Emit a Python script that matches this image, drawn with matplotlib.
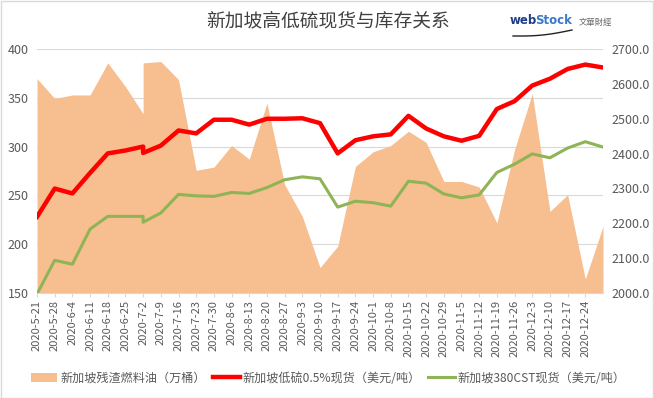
import numpy as np
import pandas as pd
import matplotlib
matplotlib.use("Agg")
from matplotlib import pyplot as plt
from matplotlib.patches import Patch, Rectangle
from matplotlib.lines import Line2D

plt.rcParams['font.family'] = ['Noto Sans CJK SC', 'DejaVu Sans']

# Weekly dates, 2020-7-2 appears twice in the source data
dates = ["2020-05-21", "2020-05-28", "2020-06-04", "2020-06-11", "2020-06-18", "2020-06-25",
         "2020-07-02", "2020-07-02", "2020-07-09", "2020-07-16", "2020-07-23", "2020-07-30",
         "2020-08-06", "2020-08-13", "2020-08-20", "2020-08-27", "2020-09-03", "2020-09-10",
         "2020-09-17", "2020-09-24", "2020-10-01", "2020-10-08", "2020-10-15", "2020-10-22",
         "2020-10-29", "2020-11-05", "2020-11-12", "2020-11-19", "2020-11-26", "2020-12-03",
         "2020-12-10", "2020-12-17", "2020-12-24", "2020-12-31"]

# 新加坡残渣燃料油 (万桶), right axis
stock = [2615, 2558, 2568, 2568, 2660, 2592,
         2514, 2660, 2664, 2612, 2352, 2361,
         2423, 2384, 2545, 2311, 2220, 2073,
         2134, 2363, 2405, 2423, 2464, 2432,
         2320, 2320, 2304, 2201, 2411, 2572,
         2234, 2282, 2040, 2191]

# 新加坡低硫0.5%现货 (美元/吨), left axis
lsfo = [228, 257, 252, 273, 293, 296,
        300, 293.5, 301, 316.5, 313.5, 327.5,
        327.5, 322.5, 328.5, 328.5, 329, 324,
        293, 306.5, 310.5, 312.5, 331.5, 318.5,
        310.5, 306, 311, 338.5, 346.5, 362.5,
        369.5, 379.5, 384, 381]

# 新加坡380CST现货 (美元/吨), left axis
hsfo = [149, 183.5, 179.5, 215.5, 228.5, 228.5,
        228.5, 222.5, 232, 251, 249.5, 249,
        253, 252, 258, 266, 269, 267,
        238, 244, 242.5, 239, 264.5, 262.5,
        251.5, 247.5, 250.5, 273.5, 282, 292.5,
        288.5, 298.5, 305, 299.5]

x = pd.to_datetime(dates)

fig = plt.figure(figsize=(6.54, 3.98), dpi=100)
fig.patches.append(Rectangle((0.001, 0.001), 0.997, 0.997, transform=fig.transFigure,
                             fill=False, edgecolor="#d9d9d9", linewidth=1))

ax = fig.add_axes([0.0566, 0.2638, 0.8654, 0.6132])
ax2 = ax.twinx()

# Area on the right axis, drawn behind the lines
ax2.fill_between(x, 2000, stock, color="#F7BE8F", linewidth=0, zorder=1)
ax2.set_ylim(2000, 2700)
ax2.set_yticks(np.arange(2000, 2701, 100))
ax2.set_yticklabels(["%.1f" % v for v in np.arange(2000, 2701, 100)])

ax.set_zorder(ax2.get_zorder() + 1)
ax.patch.set_visible(False)
ax.plot(x, lsfo, color="#FF0000", linewidth=3.2, solid_joinstyle="round", zorder=4)
ax.plot(x, hsfo, color="#8FB456", linewidth=2.2, solid_joinstyle="round", zorder=3)
ax.set_ylim(150, 400)
ax.set_yticks(np.arange(150, 401, 50))
ax.set_xlim(x[0], x[-1])

# Gridlines from the left axis, drawn on the back axes so they sit under the area
for v in np.arange(150, 401, 50):
    ax2.axhline(2000 + (v - 150) * 700 / 250, color="#d9d9d9", linewidth=0.8, zorder=0)

tick_dates = pd.date_range("2020-05-21", "2020-12-24", freq="7D")
ax.set_xticks(tick_dates)
ax.set_xticklabels(["%d-%d-%d" % (d.year, d.month, d.day) for d in tick_dates], rotation=90)

for a in (ax, ax2):
    for s in a.spines.values():
        s.set_visible(False)
    a.tick_params(axis="y", length=0, labelsize=9, labelcolor="#595959")
ax.spines["bottom"].set_visible(True)
ax.spines["bottom"].set_color("#d9d9d9")
ax.tick_params(axis="x", length=3, color="#d9d9d9", labelsize=8, labelcolor="#595959", pad=2)
ax.tick_params(axis="y", pad=6)
ax2.tick_params(axis="y", pad=6)

fig.text(0.502, 0.948, "新加坡高低硫现货与库存关系", ha="center", va="center",
         fontsize=13.5, color="#404040")

# webStock logo as text plus a swoosh
fig.text(510 / 654, 1 - 21 / 398, "web", ha="left", va="center", fontsize=8.5,
         fontweight="bold", color="#1F3C88", family="DejaVu Sans")
fig.text(535 / 654, 1 - 20 / 398, "Stock", ha="left", va="center", fontsize=8.5,
         fontweight="bold", color="#3A78C8", family="DejaVu Sans")
fig.text(579 / 654, 1 - 22 / 398, "文華財經", ha="left", va="center", fontsize=6,
         color="#666666", family=["Noto Sans CJK TC", "DejaVu Sans"])
sx = np.linspace(513, 572, 30)
sy = 36 - 6 * (sx - 513) / 59 + 2 * np.sin((sx - 513) / 59 * np.pi)
fig.add_artist(Line2D(sx / 654, 1 - sy / 398, color="#222222", linewidth=1.0,
                      transform=fig.transFigure))

handles = [Patch(facecolor="#F7BE8F", edgecolor="none"),
           Line2D([0], [0], color="#FF0000", linewidth=3.2),
           Line2D([0], [0], color="#8FB456", linewidth=2.2)]
labels = ["新加坡残渣燃料油（万桶）", "新加坡低硫0.5%现货（美元/吨）", "新加坡380CST现货（美元/吨）"]
fig.legend(handles, labels, loc="center", bbox_to_anchor=(0.502, 0.05), ncol=3,
           frameon=False, fontsize=8.7, handlelength=2.2, columnspacing=0.6,
           handletextpad=0.25, labelcolor="#595959")

fig.savefig("out.png", dpi=100)
